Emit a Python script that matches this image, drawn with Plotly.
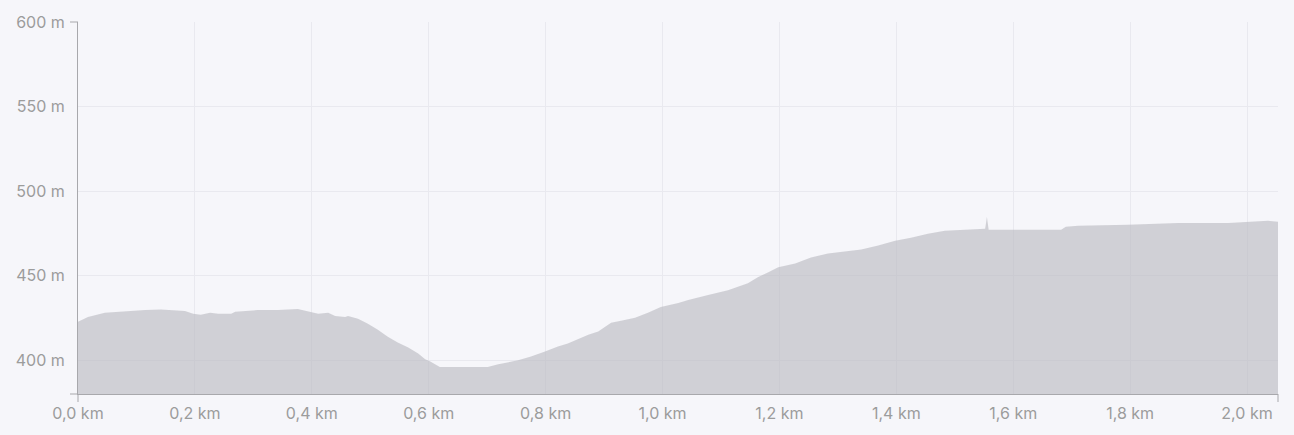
import plotly.graph_objects as go

distance_km = [0.000, 0.017, 0.046, 0.086, 0.115, 0.142, 0.183, 0.197, 0.210, 0.226,
               0.240, 0.262, 0.269, 0.308, 0.342, 0.376, 0.394, 0.411, 0.428, 0.440,
               0.457, 0.462, 0.479, 0.496, 0.513, 0.530, 0.547, 0.565, 0.582, 0.594,
               0.602, 0.619, 0.701, 0.719, 0.753, 0.775, 0.799, 0.821, 0.838, 0.855,
               0.873, 0.890, 0.912, 0.929, 0.953, 0.975, 0.997, 1.027, 1.044, 1.078,
               1.112, 1.146, 1.163, 1.181, 1.198, 1.227, 1.254, 1.283, 1.312, 1.340,
               1.369, 1.398, 1.425, 1.454, 1.483, 1.511, 1.535, 1.552, 1.555, 1.558,
               1.682, 1.690, 1.711, 1.796, 1.882, 1.968, 2.036, 2.053]
elevation_m = [422.7, 425.6, 428.0, 429.1, 429.7, 430.0, 429.1, 427.4, 426.8, 428.0,
               427.4, 427.4, 428.6, 429.7, 429.7, 430.3, 428.6, 427.4, 428.0, 426.2,
               425.6, 426.2, 424.5, 421.5, 418.0, 413.9, 410.4, 407.5, 404.0, 400.5,
               399.3, 396.0, 396.0, 397.6, 399.9, 402.2, 405.2, 408.1, 409.8, 412.2,
               415.1, 416.9, 422.1, 423.3, 425.1, 428.0, 431.5, 433.8, 435.6, 438.5,
               441.4, 445.5, 449.0, 452.0, 454.9, 457.2, 460.7, 463.1, 464.3, 465.4,
               467.8, 470.7, 472.4, 474.8, 476.5, 477.1, 477.7, 477.7, 484.7, 477.1,
               477.1, 478.9, 479.5, 480.1, 481.2, 481.2, 482.4, 481.8]

x_tick_vals = [0.0, 0.2, 0.4, 0.6, 0.8, 1.0, 1.2, 1.4, 1.6, 1.8, 2.0]
x_tick_text = ["0,0 km", "0,2 km", "0,4 km", "0,6 km", "0,8 km", "1,0 km",
               "1,2 km", "1,4 km", "1,6 km", "1,8 km", "2,0 km"]
y_tick_vals = [400, 450, 500, 550, 600]
y_tick_text = ["400 m", "450 m", "500 m", "550 m", "600 m"]

BG = "#f6f6fa"
GRID = "#e9e9ef"
AXIS = "#a8a8ac"
TXT = "#9c9c9c"

fig = go.Figure()
fig.add_trace(go.Scatter(
    x=distance_km, y=elevation_m, mode="lines",
    fill="tozeroy", fillcolor="rgba(184,183,190,0.6)",
    line=dict(width=0, color="rgba(184,183,190,0.6)"),
    hoverinfo="skip", showlegend=False,
))

font = dict(family="Inter, Roboto, sans-serif", size=16, color=TXT)

fig.update_layout(
    width=1294, height=435, autosize=False,
    margin=dict(l=78, r=16, t=19, b=40, pad=0),
    paper_bgcolor=BG, plot_bgcolor=BG,
    font=font,
    xaxis=dict(range=[0, 2.053], tickvals=x_tick_vals, ticktext=x_tick_text,
               showgrid=True, gridcolor=GRID, gridwidth=1, zeroline=False,
               showline=True, linecolor=AXIS, linewidth=1, ticks="",
               ticklabelstandoff=5, tickfont=font, fixedrange=True),
    yaxis=dict(range=[380, 600], tickvals=y_tick_vals, ticktext=y_tick_text,
               showgrid=True, gridcolor=GRID, gridwidth=1, zeroline=False,
               showline=True, linecolor=AXIS, linewidth=1, ticks="",
               ticklabelstandoff=9, tickfont=font, fixedrange=True),
)

# outer domain ticks at the ends of both axes
for yp in (0, 1):
    fig.add_shape(type="line", xref="paper", yref="paper",
                  xsizemode="pixel", xanchor=0, x0=-8, x1=0, y0=yp, y1=yp,
                  line=dict(color=AXIS, width=1))
for xp in (0, 1):
    fig.add_shape(type="line", xref="paper", yref="paper",
                  ysizemode="pixel", yanchor=0, y0=-8, y1=0, x0=xp, x1=xp,
                  line=dict(color=AXIS, width=1))

fig.write_html("out.html", post_script="document.body.style.margin='0';",
               config={"displayModeBar": False})
